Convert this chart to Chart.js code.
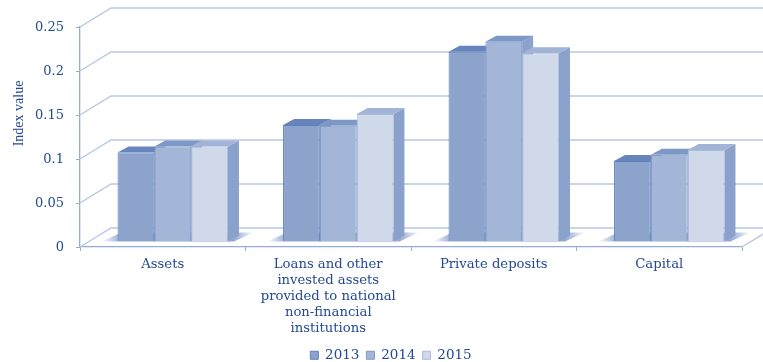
<!DOCTYPE html>
<html>
<head>
<meta charset="utf-8">
<title>Index value</title>
<script src="https://cdn.jsdelivr.net/npm/chart.js@4"></script>
<style>
  html, body { margin: 0; padding: 0; background: #fff; overflow: hidden; }
  canvas { display: block; }
</style>
</head>
<body>
<canvas id="barChart" width="763" height="362"></canvas>
<script>
const categories = [
    ["Assets"],
    ["Loans and other", "invested assets", "provided to national", "non-financial", "institutions"],
    ["Private deposits"],
    ["Capital"],
];
const years = ["2013", "2014", "2015"];
const values2013 = [0.101, 0.1325, 0.2155, 0.0915];
const values2014 = [0.108, 0.1315, 0.227, 0.0985];
const values2015 = [0.108, 0.145, 0.214, 0.104];
const axisTitle = "Index value";

const textColor = "#234a93";
const gridColor = "#b7c7e3";
const axisColor = "#94abd4";

// Face colours per series: front, edge, top, side
const faces = [
    { front: "#8da3cc", edge: "#5f80ba", top: "#6785bd", side: "#7391c3" },
    { front: "#a3b6d7", edge: "#7f9ac8", top: "#7d98c7", side: "#8aa2cc" },
    { front: "#d0d9ea", edge: "#a9bbdb", top: "#a1b4d6", side: "#8aa1cb" },
];

// Depth of the box: wall sits behind the axes, bars stand in the middle of the floor
const wallDx = 31, wallDy = -19;
const barDx = 10, barDy = -5.5;
const depthDx = 11, depthDy = -6;

function poly(ctx, pts, fill) {
    ctx.beginPath();
    pts.forEach((p, i) => i ? ctx.lineTo(p[0], p[1]) : ctx.moveTo(p[0], p[1]));
    ctx.closePath();
    ctx.fillStyle = fill;
    ctx.fill();
}

const wallPlugin = {
    id: "wall",
    beforeDatasetsDraw(chart) {
        const { ctx, scales: { y }, chartArea } = chart;
        ctx.save();
        ctx.strokeStyle = gridColor;
        ctx.lineWidth = 1.4;
        y.ticks.forEach(t => {
            const py = y.getPixelForValue(t.value);
            ctx.beginPath();
            ctx.moveTo(chartArea.left, py);
            ctx.lineTo(chartArea.left + wallDx, py + wallDy);
            ctx.lineTo(chartArea.right + wallDx, py + wallDy);
            ctx.stroke();
        });
        // right edge of the floor
        ctx.beginPath();
        ctx.moveTo(chartArea.right, chartArea.bottom);
        ctx.lineTo(chartArea.right + wallDx, chartArea.bottom + wallDy);
        ctx.stroke();

        // soft shadow under each group of bars
        const first = chart.getDatasetMeta(0).data;
        const last = chart.getDatasetMeta(2).data;
        const base = y.getPixelForValue(0) + barDy;
        first.forEach((bar, i) => {
            const left = bar.x - bar.width / 2 + barDx;
            const right = last[i].x + last[i].width / 2 + barDx;
            const g = ctx.createLinearGradient(left - 16, 0, right + 26, 0);
            g.addColorStop(0, "rgba(120,146,198,0)");
            g.addColorStop(0.13, "rgba(120,146,198,0.8)");
            g.addColorStop(0.87, "rgba(120,146,198,0.8)");
            g.addColorStop(1, "rgba(120,146,198,0)");
            poly(ctx, [[left - 16, base], [right + 6, base], [right + 26, base - 9], [left + 4, base - 9]], g);
        });

        // depth faces go first, left to right, so the fronts cover them
        ctx.translate(barDx, barDy);
        const zero = y.getPixelForValue(0);
        faces.forEach((look, s) => {
            chart.getDatasetMeta(s).data.forEach(bar => {
                const l = bar.x - bar.width / 2, r = bar.x + bar.width / 2;
                const top = bar.y;
                poly(ctx, [[r, top], [r + depthDx, top + depthDy], [r + depthDx, zero + depthDy], [r, zero]], look.side);
                poly(ctx, [[l, top], [l + depthDx, top + depthDy], [r + depthDx, top + depthDy], [r, top]], look.top);
            });
        });
        ctx.restore();
    },
    beforeDatasetDraw(chart) {
        chart.ctx.save();
        chart.ctx.translate(barDx, barDy);
    },
    afterDatasetDraw(chart) {
        chart.ctx.restore();
    },
    afterLayout(chart) {
        // legend sits right of centre and low on the page
        const legend = chart.legend;
        legend.left += 20;
        legend.right += 20;
        legend.top += 10;
        legend.bottom += 10;
        // room for the five-line category label
        chart.scales.x.bottom = chart.height;
    },
    afterDraw(chart) {
        const ctx = chart.ctx;
        ctx.save();
        ctx.translate(19, 113.5);
        ctx.rotate(-Math.PI / 2);
        ctx.fillStyle = textColor;
        ctx.font = "14px 'Liberation Serif'";
        ctx.textAlign = "center";
        ctx.textBaseline = "middle";
        ctx.fillText(axisTitle, 0, 0);
        ctx.restore();
    },
};

const seriesValues = [values2013, values2014, values2015];

new Chart(document.getElementById("barChart"), {
    type: "bar",
    plugins: [wallPlugin],
    data: {
        labels: categories,
        datasets: years.map((year, i) => ({
            label: year,
            data: seriesValues[i],
            backgroundColor: faces[i].front,
            borderColor: faces[i].edge,
            borderWidth: 1,
            categoryPercentage: 0.667,
            barPercentage: 1,
        })),
    },
    options: {
        responsive: false,
        animation: false,
        layout: { padding: { top: 27, right: 21 } },
        plugins: {
            tooltip: { enabled: false },
            legend: {
                position: "bottom",
                labels: {
                    boxWidth: 8,
                    boxHeight: 8,
                    padding: 7,
                    color: textColor,
                    font: { family: "'DejaVu Serif'", size: 13.5 },
                },
            },
        },
        scales: {
            x: {
                afterFit(scale) { scale.height = 115 - scale.chart.legend.height; },
                border: { color: axisColor, width: 1.3 },
                grid: { drawOnChartArea: false, tickLength: 4, color: axisColor },
                ticks: {
                    autoSkip: false,
                    maxRotation: 0,
                    padding: 6,
                    color: textColor,
                    font: { family: "'DejaVu Serif'", size: 13.2, lineHeight: 1.2 },
                },
            },
            y: {
                min: 0,
                max: 0.25,
                afterFit(scale) { scale.width = 80; },
                border: { color: axisColor, width: 1.3 },
                grid: { drawOnChartArea: false, tickLength: 4, color: axisColor },
                ticks: {
                    stepSize: 0.05,
                    padding: 12,
                    labelOffset: 1,
                    color: textColor,
                    font: { family: "'DejaVu Serif'", size: 13 },
                    callback: v => String(+v.toFixed(2)),
                },
            },
        },
    },
});
</script>
</body>
</html>
